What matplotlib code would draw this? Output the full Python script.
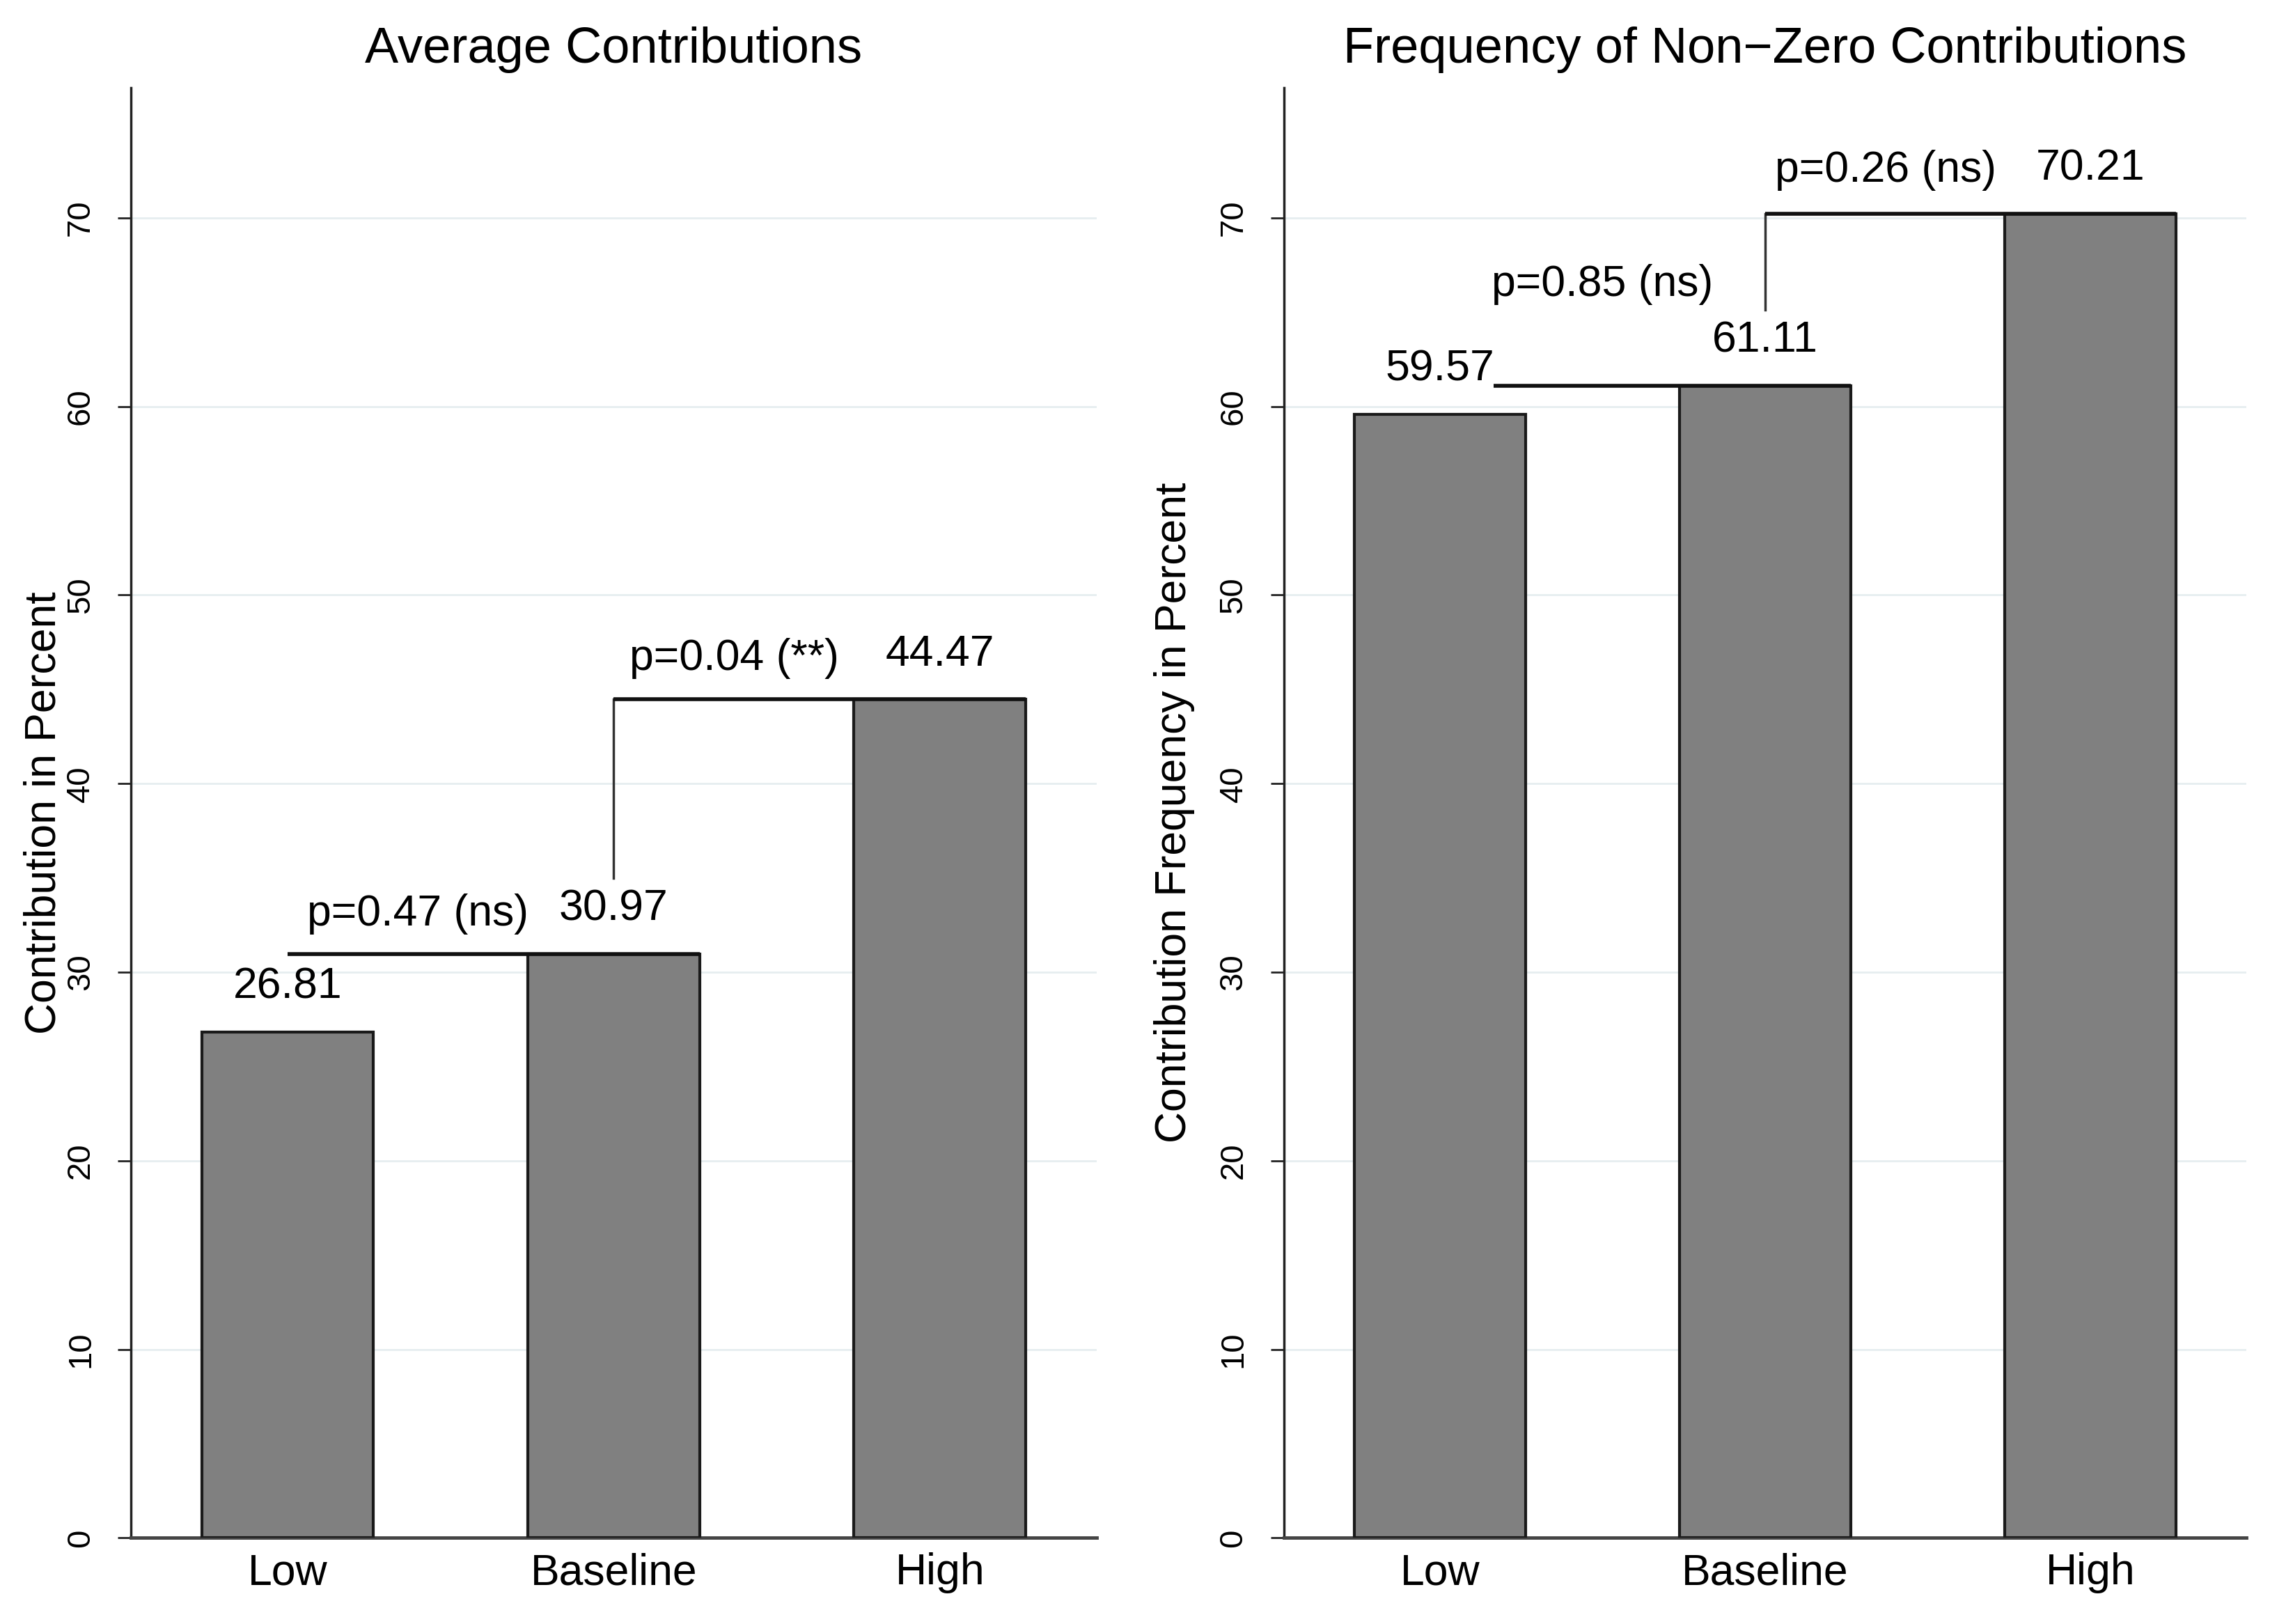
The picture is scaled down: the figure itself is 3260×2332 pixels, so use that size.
import matplotlib
matplotlib.use('Agg')
import matplotlib.pyplot as plt

plt.rcParams['font.family'] = ['Liberation Sans', 'DejaVu Sans']

# data
categories = ['Low', 'Baseline', 'High']
avg_contrib = [26.81, 30.97, 44.47]
freq_nonzero = [59.57, 61.11, 70.21]
p_avg = ['p=0.47 (ns)', 'p=0.04 (**)']
p_freq = ['p=0.85 (ns)', 'p=0.26 (ns)']
titles = ['Average Contributions', 'Frequency of Non\u2212Zero Contributions']
ylabels = ['Contribution in Percent', 'Contribution Frequency in Percent']
yticks = [0, 10, 20, 30, 40, 50, 60, 70]

BAR_W = 0.527
FS = 45


def draw_panel(ax, values, plabels, title, ylabel, start1, p1_pos, p2_pos, label_x):
    x = range(len(categories))
    ax.bar(x, values, width=BAR_W, color='#808080', edgecolor='#1a1a1a',
           linewidth=3, zorder=3)
    for xi, v in zip(x, values):
        ax.text(xi, v + 2.4, f'{v:.2f}', ha='center', va='center', fontsize=FS, zorder=5)

    # significance brackets
    half = BAR_W / 2
    ax.plot([start1, 1 + half], [values[1], values[1]], color='#111111', lw=4,
            solid_capstyle='butt', zorder=4)
    ax.plot([1, 1], [values[1] + 4.0, values[2]], color='#333333', lw=2.5, zorder=4)
    ax.plot([1, 2 + half], [values[2], values[2]], color='#111111', lw=4,
            solid_capstyle='butt', zorder=4)
    ax.text(p1_pos[0], p1_pos[1], plabels[0], ha='center', va='center', fontsize=FS, zorder=5)
    ax.text(p2_pos[0], p2_pos[1], plabels[1], ha='center', va='center', fontsize=FS, zorder=5)

    ax.set_xlim(-0.48, 2.48)
    ax.set_ylim(0, 76.9)
    ax.set_xticks(list(x))
    ax.set_xticklabels(categories, fontsize=FS)
    ax.tick_params(axis='x', length=0, pad=15)
    ax.set_yticks(yticks)
    ax.set_yticklabels([str(t) for t in yticks], rotation=90, va='center', fontsize=34)
    ax.tick_params(axis='y', length=14, width=2, color='#222222', pad=22)
    ax.yaxis.grid(True, color='#e6eef0', lw=2, zorder=0)
    ax.set_axisbelow(True)
    for s in ['top', 'right']:
        ax.spines[s].set_visible(False)
    ax.spines['left'].set_color('#222222')
    ax.spines['left'].set_linewidth(2.5)
    ax.spines['bottom'].set_color('#444444')
    ax.spines['bottom'].set_linewidth(3.5)
    ax.set_title(title, fontsize=52, pad=26)
    ax.set_ylabel(ylabel, fontsize=FS)
    ax.yaxis.set_label_coords(label_x, 0.5)


fig = plt.figure(figsize=(32.6, 23.32), dpi=100)
ax1 = fig.add_axes([0.0577, 0.053, 0.4253, 0.893])
ax2 = fig.add_axes([0.5655, 0.053, 0.4242, 0.893])

draw_panel(ax1, avg_contrib, p_avg, titles[0], ylabels[0], 0.0,
           (0.40, avg_contrib[1] + 2.1), (1.37, avg_contrib[2] + 2.15), -0.069)
draw_panel(ax2, freq_nonzero, p_freq, titles[1], ylabels[1], 0.165,
           (0.50, freq_nonzero[1] + 5.35), (1.37, freq_nonzero[2] + 2.3), -0.092)

fig.savefig('out.png', dpi=100, facecolor='white')
